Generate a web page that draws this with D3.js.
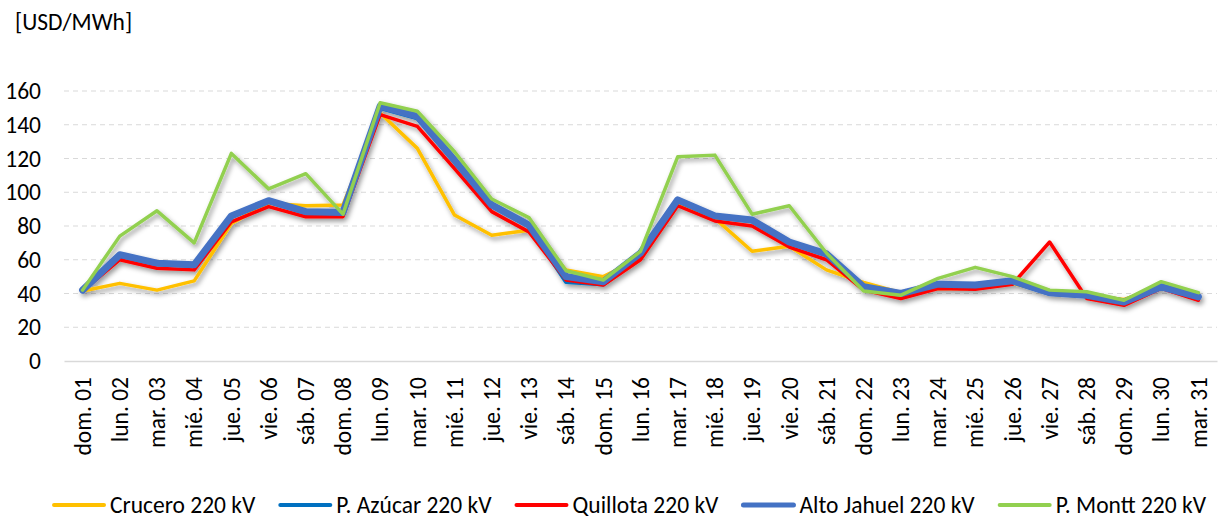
<!DOCTYPE html>
<head>
  <meta charset="utf-8">
  <script src="https://d3js.org/d3.v7.min.js"></script>
  <style>
body {
	margin:0;
	background:#fff;
	}
text {
	font-family: Calibri, Carlito, Lato, "Noto Sans", sans-serif;
	fill: #000;
	}
.tick text {
	font-size: 23.5px;
	}
.legText {
	font-size: 23.5px;
	}
  </style>
</head>

<body>
  <div id="graph"></div>
<script>
// Data
var days = ["dom. 01","lun. 02","mar. 03","mié. 04","jue. 05","vie. 06","sáb. 07","dom. 08","lun. 09","mar. 10",
  "mié. 11","jue. 12","vie. 13","sáb. 14","dom. 15","lun. 16","mar. 17","mié. 18","jue. 19","vie. 20",
  "sáb. 21","dom. 22","lun. 23","mar. 24","mié. 25","jue. 26","vie. 27","sáb. 28","dom. 29","lun. 30","mar. 31"];

var crucero    = [41.5,46,42,47.5,81.5,93.5,92,92.5,147,126,86.5,74.5,77.5,54,50,61,92.5,84.5,65,68,54,46.5,40.5,43,43,46,40.5,39,36.5,44,37.5];
var pAzucar    = [42,62.5,57.5,56.5,85.5,94.5,88,88,150,144,118,92,80,47,45.5,63,95,85.5,83,70,63,43.5,39.5,45,44.5,47,40,38.5,34.5,44,37.5];
var quillota   = [41.5,60,55,54,82.5,91.5,85.5,85.5,146,139,114,88.5,76.5,48,45,60,92,83,80,67.5,60,42,37,43,42.5,45.5,70.5,37,33,43,36];
var altoJahuel = [42,63,58,57,86,95,88.5,88,151,145,119,92.5,80.5,50,47,64,95.5,86,83.5,70.5,63.5,44,40,45.5,45,47.5,40.5,39,35,44,38];
var pMontt     = [42,74,89,70,123,102,111,87,153,148,124,96,85,53.5,48,65,121,122,87,92,64,41.5,39,49,55.5,50,42,41,36,47,40.5];

var seriesNames = ["Crucero 220 kV","P. Azúcar 220 kV","Quillota 220 kV","Alto Jahuel 220 kV","P. Montt 220 kV"];
var seriesValues = [crucero, pAzucar, quillota, altoJahuel, pMontt];
var seriesColors = ["#FFC000","#0070C0","#FF0000","#4472C4","#92D050"];
var seriesWidths = [3.5, 4.5, 3.5, 7, 3.5];
var yTicks = [0,20,40,60,80,100,120,140,160];

var W = 1227, H = 519;
var plotLeft = 64, plotRight = 1217, plotTop = 91, plotBottom = 361;

var svg = d3.select("#graph").append("svg")
  .attr("width", W).attr("height", H);

var defs = svg.append("defs");
var f = defs.append("filter").attr("id","shadow")
  .attr("x","-5%").attr("y","-10%").attr("width","110%").attr("height","130%");
f.append("feDropShadow").attr("dx",2).attr("dy",3).attr("stdDeviation",2.5)
  .attr("flood-color","#000").attr("flood-opacity",0.4);

var x = d3.scaleBand().domain(days).range([plotLeft, plotRight]);
var y = d3.scaleLinear().domain([0,160]).range([plotBottom, plotTop]);

// unit label
svg.append("text").attr("x", 15).attr("y", 30).style("font-size","23.5px").text("[USD/MWh]");

// gridlines
svg.append("g").selectAll("line").data(yTicks.filter(function(d){ return d > 0; }))
  .enter().append("line")
  .attr("x1", plotLeft).attr("x2", plotRight)
  .attr("y1", function(d){ return y(d); }).attr("y2", function(d){ return y(d); })
  .attr("stroke", "#d9d9d9").attr("stroke-width", 1.2).attr("stroke-dasharray", "5,4");

// y axis
var yaxis = svg.append("g").attr("transform","translate(" + plotLeft + ",0)")
  .call(d3.axisLeft(y).tickValues(yTicks).tickSize(0).tickPadding(23));
yaxis.select(".domain").remove();

// x axis
var xaxis = svg.append("g").attr("transform","translate(0," + plotBottom + ")")
  .call(d3.axisBottom(x).tickSize(0).tickPadding(0));
xaxis.select(".domain").attr("stroke","#d9d9d9").attr("stroke-width",1.5);
xaxis.selectAll(".tick text")
  .attr("transform","rotate(-90)")
  .attr("text-anchor","end")
  .attr("x", -16).attr("y", 0).attr("dy","0.35em");

// lines
var line = d3.line()
  .x(function(d,i){ return x(days[i]) + x.bandwidth()/2; })
  .y(function(d){ return y(d); });

svg.append("g").attr("filter","url(#shadow)")
  .selectAll("path").data(seriesValues).enter().append("path")
  .attr("d", line)
  .attr("fill","none")
  .attr("stroke", function(d,i){ return seriesColors[i]; })
  .attr("stroke-width", function(d,i){ return seriesWidths[i]; })
  .attr("stroke-linejoin","round")
  .attr("stroke-linecap","round");

// legend
var legend = svg.append("g");
var items = [];
seriesNames.forEach(function(name, i) {
  var g = legend.append("g");
  g.append("line").attr("x1",1).attr("x2",51).attr("y1",0).attr("y2",0)
    .attr("stroke", seriesColors[i]).attr("stroke-width", i == 3 ? 5 : 4)
    .attr("stroke-linecap","round");
  var t = g.append("text").attr("class","legText").attr("x",57).attr("dy","0.35em").text(name);
  items.push({g: g, w: 57 + t.node().getComputedTextLength()});
});
var total = d3.sum(items, function(d){ return d.w; }) + 24 * (items.length - 1);
var lx = 629.5 - total / 2;
items.forEach(function(it) {
  it.g.attr("transform","translate(" + lx + ",505)");
  lx += it.w + 24;
});
</script>
</body>
